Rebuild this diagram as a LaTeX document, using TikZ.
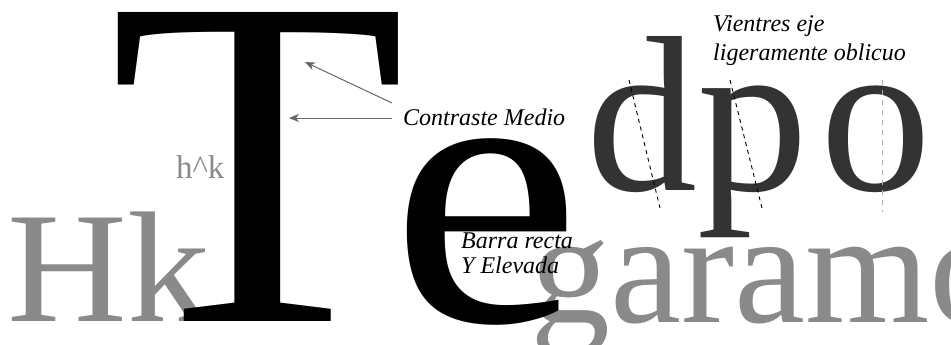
\documentclass[tikz,border=0pt]{standalone}
\usepackage{fontspec}
\setmainfont{Liberation Serif}
\usetikzlibrary{arrows.meta}
\definecolor{lightgrey}{HTML}{8A8A8A}
\definecolor{darkgrey}{HTML}{333333}
\definecolor{arrowgrey}{HTML}{666666}
\tikzset{
  glyph/.style={inner sep=0pt, outer sep=0pt, anchor=base west},
  note/.style={inner sep=0pt, anchor=base west, font=\fontsize{24}{26}\selectfont\itshape, text=black},
  pointer/.style={draw=arrowgrey, line width=1pt, -{Stealth[length=10pt,width=8pt,inset=3pt]}},
  axisd/.style={draw=black, line width=0.9pt, dash pattern=on 4pt off 4pt},
  axiso/.style={draw=lightgrey!70, line width=0.8pt, dash pattern=on 5pt off 5pt}
}
\begin{document}
\begin{tikzpicture}[x=1pt,y=-1pt]
\useasboundingbox (0,0) rectangle (951,345);
\clip (0,0) rectangle (951,345);
% grey background words
\node[glyph, text=lightgrey, font=\fontsize{158}{160}\selectfont] (hk) at (8,321) {\scalebox{1.05}[1]{Hk}};
\node[glyph, text=lightgrey, font=\fontsize{33}{36}\selectfont] (hk2) at (176,178) {h\textasciicircum k};
\node[glyph, text=lightgrey, font=\fontsize{160}{170}\selectfont] (garamo) at (530,322) {garamo};
% dark d p o
\node[glyph, text=darkgrey, font=\fontsize{222}{230}\selectfont] (d) at (586,190) {d};
\node[glyph, text=darkgrey, font=\fontsize{222}{230}\selectfont] (p) at (697,190) {p};
\node[glyph, text=darkgrey, font=\fontsize{222}{230}\selectfont] (o) at (820,190) {o};
% big T and e
\node[glyph, text=black, font=\fontsize{472}{480}\selectfont] (T) at (109,321) {\scalebox{1.03}[1]{T}};
\node[glyph, text=black, font=\fontsize{388}{400}\selectfont] (e) at (390,321) {\scalebox{1.11}[1]{e}};
% axes
\coordinate (d1) at (629,80); \coordinate (d2) at (660,208);
\coordinate (p1) at (730,80); \coordinate (p2) at (762,208);
\coordinate (o1) at (882,80); \coordinate (o2) at (882,212);
\draw[axisd] (d1) -- (d2);
\draw[axisd] (p1) -- (p2);
\draw[axiso] (o1) -- (o2);
% labels
\node[note] (contraste) at (403,125) {Contraste Medio};
\node[note] (barra) at (461,248) {Barra recta};
\node[note] (elevada) at (461,273) {Y Elevada};
\node[note] (vientres) at (713,32) {Vientres eje};
\node[note] (ligera) at (713,61) {ligeramente oblicuo};
% pointers
\coordinate (tgt1) at (305,62);
\coordinate (tgt2) at (289,118);
\draw[pointer] ([xshift=-11pt,yshift=22pt]contraste.base west) -- (tgt1);
\draw[pointer] ([xshift=-11pt,yshift=7pt]contraste.base west) -- (tgt2);
\end{tikzpicture}
\end{document}
